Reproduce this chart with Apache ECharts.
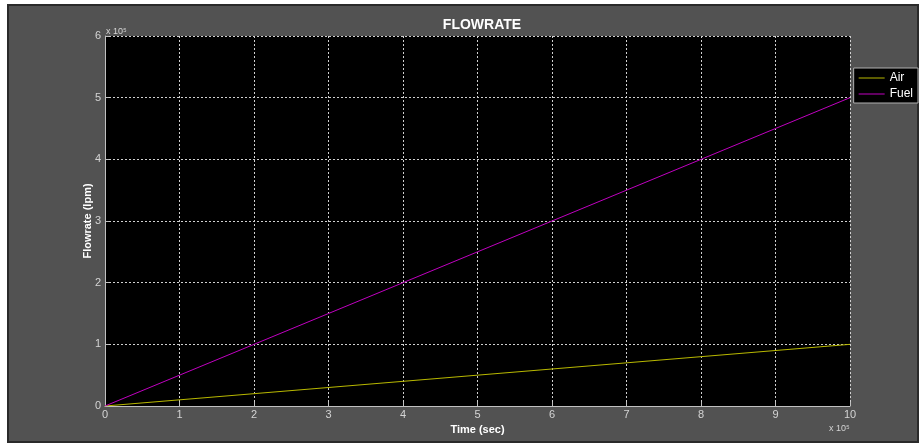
<!DOCTYPE html>
<html>
<head>
<meta charset="utf-8">
<script src="https://cdn.jsdelivr.net/npm/echarts@6/dist/echarts.min.js"></script>
<style>
  html, body { margin: 0; padding: 0; background: #fff; }
  #chart { width: 921px; height: 445px; }
</style>
</head>
<body>
<div id="chart"></div>
<script>
  // values in units of 10^5
  const time = [0, 10];
  const air = [0, 1];
  const fuel = [0, 5];

  const TICK = '#d4d4d4';
  const FONT = "'Liberation Sans', Arial, sans-serif";

  const chart = echarts.init(document.getElementById('chart'), null, { renderer: 'canvas' });

  const mk = (name, values, color) => ({
    name,
    type: 'line',
    data: time.map((t, i) => [t, values[i]]),
    symbol: 'none',
    lineStyle: { width: 1, color },
    itemStyle: { color },
    animation: false,
  });

  chart.setOption({
    backgroundColor: '#ffffff',
    textStyle: { fontFamily: FONT },
    graphic: [
      { type: 'rect', shape: { x: 8, y: 5, width: 910, height: 437 },
        style: { fill: '#525252', stroke: '#2a2a2a', lineWidth: 2 }, silent: true, z: -10 },
      { type: 'text', left: 106, top: 27,
        style: { text: 'x 10⁵', fill: TICK, font: '9px ' + FONT } },
      { type: 'text', left: 829, top: 424,
        style: { text: 'x 10⁵', fill: TICK, font: '9px ' + FONT } },
      // y-axis title placed by hand, closer to the tick labels
      { type: 'text', x: 88, y: 221, rotation: Math.PI / 2,
        style: { text: 'Flowrate (lpm)', fill: '#ffffff', font: 'bold 11px ' + FONT,
                 align: 'center', verticalAlign: 'middle' } },
    ],
    title: {
      text: 'FLOWRATE',
      left: 477, top: 13, textAlign: 'center',
      textStyle: { color: '#ffffff', fontSize: 14, fontWeight: 'bold', fontFamily: FONT },
    },
    legend: {
      orient: 'vertical',
      right: 3, top: 68,
      backgroundColor: '#000000',
      borderColor: '#b0b0b0', borderWidth: 1,
      padding: [4, 5, 3, 5],
      itemGap: 4,
      icon: 'rect',
      itemWidth: 26, itemHeight: 1,
      textStyle: { color: '#ffffff', fontSize: 12 },
      data: ['Air', 'Fuel'],
    },
    grid: { left: 105, right: 71, top: 36, bottom: 39, backgroundColor: '#000000', show: true, borderWidth: 0 },
    xAxis: {
      type: 'value', min: 0, max: 10, interval: 1,
      name: 'Time (sec)', nameLocation: 'middle', nameGap: 16,
      nameTextStyle: { color: '#ffffff', fontWeight: 'bold', fontSize: 11 },
      axisLine: { lineStyle: { color: '#c0c0c0', width: 1 } },
      axisTick: { show: true, inside: true, length: 4, lineStyle: { color: '#c0c0c0' } },
      axisLabel: { color: TICK, fontSize: 11, margin: 3 },
      splitLine: { show: true, lineStyle: { color: '#d0d0d0', type: [2, 2], width: 1 } },
    },
    yAxis: {
      type: 'value', min: 0, max: 6, interval: 1,
      axisLine: { show: true, lineStyle: { color: '#c0c0c0', width: 1 } },
      axisTick: { show: true, inside: true, length: 4, lineStyle: { color: '#c0c0c0' } },
      axisLabel: { color: TICK, fontSize: 11, margin: 4 },
      splitLine: { show: true, lineStyle: { color: '#d0d0d0', type: [2, 2], width: 1 } },
    },
    series: [
      mk('Air', air, '#b8b800'),
      mk('Fuel', fuel, '#c000c0'),
    ],
  });
</script>
</body>
</html>
